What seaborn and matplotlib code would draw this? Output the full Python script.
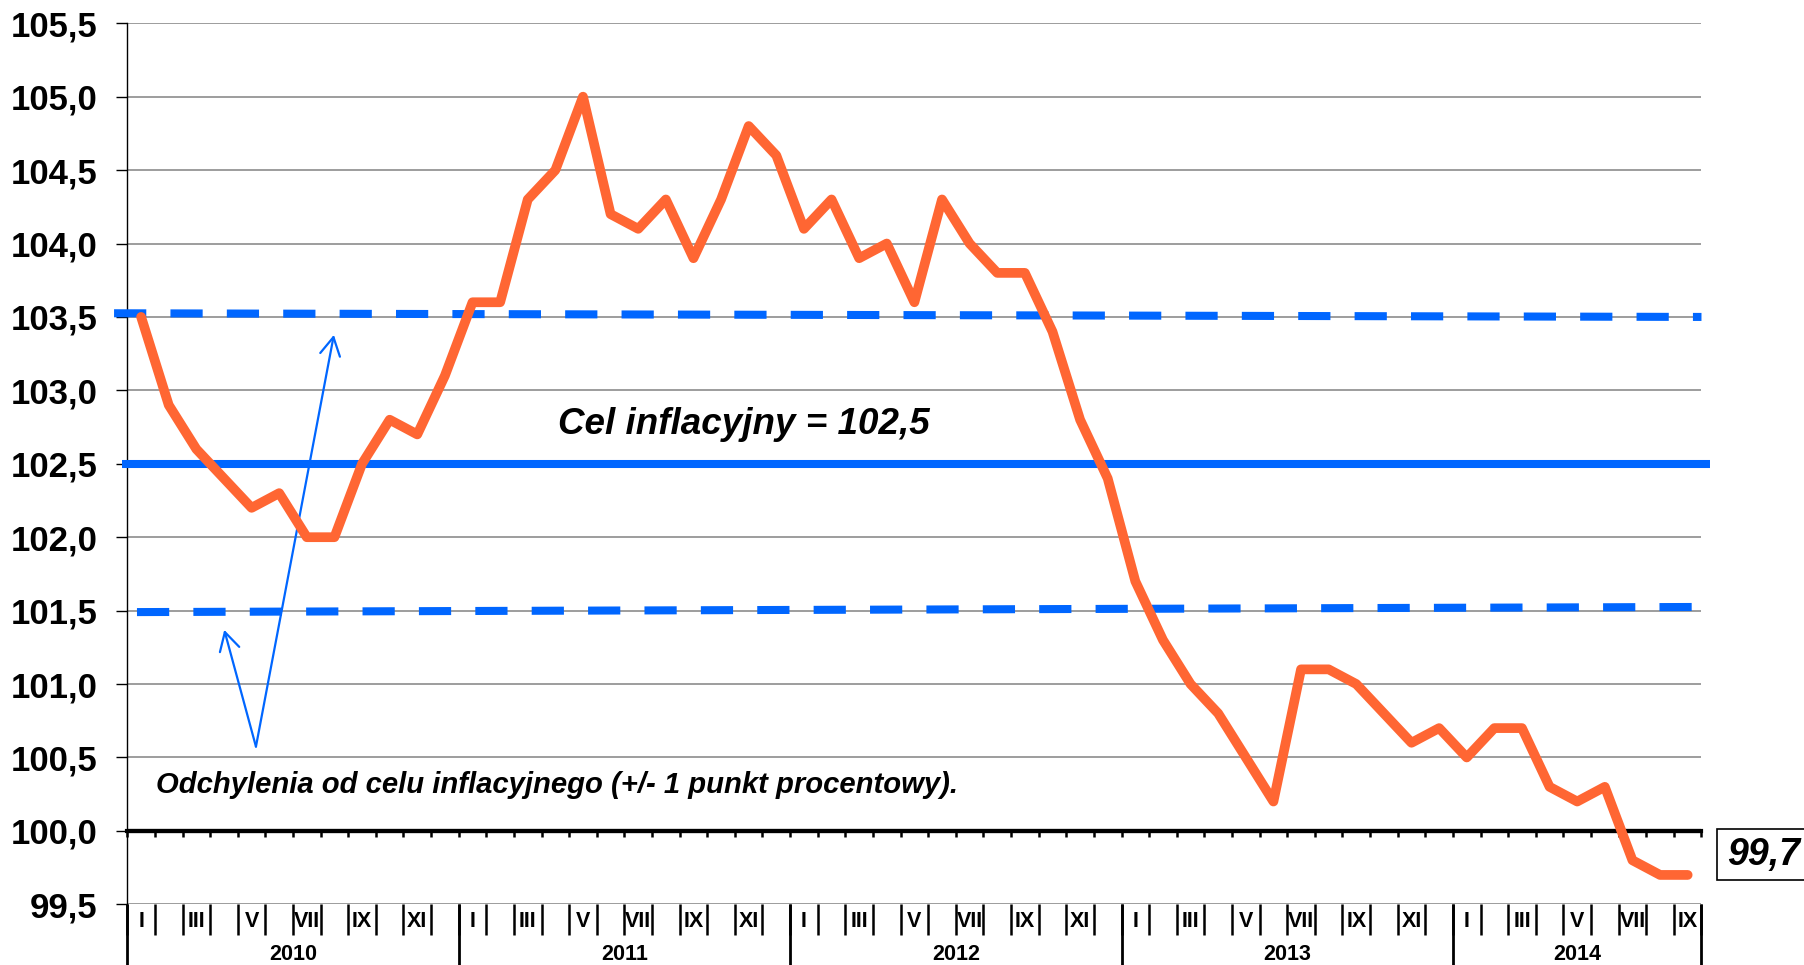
import numpy as np
import pandas as pd
import seaborn as sns
import matplotlib.pyplot as plt
from matplotlib.patches import Rectangle
from matplotlib.ticker import FuncFormatter

# ----------------------------------------
# Data (CPI, same month previous year = 100)
# ----------------------------------------

years = ["2010", "2011", "2012", "2013", "2014"]
months_per_year = [12, 12, 12, 12, 9]
roman_months = ["I", "", "III", "", "V", "", "VII", "", "IX", "", "XI", ""]

cpi = [
    103.5, 102.9, 102.6, 102.4, 102.2, 102.3, 102.0, 102.0, 102.5, 102.8, 102.7, 103.1,  # 2010
    103.6, 103.6, 104.3, 104.5, 105.0, 104.2, 104.1, 104.3, 103.9, 104.3, 104.8, 104.6,  # 2011
    104.1, 104.3, 103.9, 104.0, 103.6, 104.3, 104.0, 103.8, 103.8, 103.4, 102.8, 102.4,  # 2012
    101.7, 101.3, 101.0, 100.8, 100.5, 100.2, 101.1, 101.1, 101.0, 100.8, 100.6, 100.7,  # 2013
    100.5, 100.7, 100.7, 100.3, 100.2, 100.3, 99.8, 99.7, 99.7,                          # 2014
]

target = 102.5
band_upper = [103.525, 103.50]   # left / right end of the drawn band line
band_lower = [101.49, 101.525]
last_label = "99,7"

# ----------------------------------------
# Style
# ----------------------------------------

sns.set_style("white")
plt.rcParams["font.family"] = ["Liberation Sans", "DejaVu Sans"]
plt.rcParams["text.color"] = "black"
plt.rcParams["xtick.color"] = "black"
plt.rcParams["ytick.color"] = "black"

ORANGE = "#FF6633"
BLUE = "#0066FF"
GRID = "#8c8c8c"

n = len(cpi)
df = pd.DataFrame({"idx": np.arange(n), "cpi": cpi})
month_labels = [roman_months[i % 12] for i in range(n)]
bounds = np.concatenate([[0], np.cumsum(months_per_year)]) - 0.5
year_centers = (bounds[:-1] + bounds[1:]) / 2

fig = plt.figure(figsize=(18.04, 9.65), dpi=100)
ax = fig.add_axes([0.07057, 0.0629, 0.8726, 0.9130])

# target band and target line
ax.plot([-0.98, 56.5], band_upper, color=BLUE, lw=5.8, dashes=(4.0, 3.0),
        clip_on=False, zorder=3)
ax.plot([-0.15, 56.5], band_lower, color=BLUE, lw=5.8, dashes=(4.0, 3.0),
        clip_on=False, zorder=3)
ax.plot([-0.70, 56.82], [target, target], color=BLUE, lw=5.8,
        solid_capstyle="butt", clip_on=False, zorder=3)

# 100,0 line
ax.axhline(100, color="black", lw=3.0, zorder=2.5)

# CPI line
sns.lineplot(data=df, x="idx", y="cpi", ax=ax, color=ORANGE, lw=7.0, zorder=4,
             solid_capstyle="round", solid_joinstyle="round", clip_on=False)

# ----------------------------------------
# Axes
# ----------------------------------------

ax.set_xlim(-0.5, n - 0.5)
ax.set_ylim(99.5, 105.5)
ax.set_xlabel("")
ax.set_ylabel("")

ax.set_yticks(np.arange(99.5, 105.51, 0.5))
ax.yaxis.set_major_formatter(FuncFormatter(lambda v, p: f"{v:.1f}".replace(".", ",")))
ax.tick_params(axis="y", left=True, length=7.6, width=1.0, color="black", pad=14,
               labelsize=25, labelcolor="black")
for lbl in ax.get_yticklabels():
    lbl.set_fontweight("bold")
ax.yaxis.grid(True, color=GRID, lw=1.2)
ax.xaxis.grid(False)

for side in ["top", "right", "bottom"]:
    ax.spines[side].set_visible(False)
ax.spines["left"].set_color("black")
ax.spines["left"].set_linewidth(1.0)

# month labels and month separators
ax.set_xticks(np.arange(n))
ax.set_xticklabels(month_labels, fontsize=15.5, fontweight="bold", color="black")
ax.set_xticks(np.arange(n + 1) - 0.5, minor=True)
ax.tick_params(axis="x", which="major", bottom=True, length=0, pad=12.5)
ax.tick_params(axis="x", which="minor", bottom=True, length=22, width=1.8,
               color="black")
for lbl in ax.get_xticklabels():
    lbl.set_va("center")

# year labels and year separators
sec = ax.secondary_xaxis("bottom")
sec.spines["bottom"].set_visible(False)
sec.set_xticks(year_centers)
sec.set_xticklabels(years, fontsize=15.5, fontweight="bold", color="black")
sec.set_xticks(bounds, minor=True)
sec.tick_params(axis="x", which="major", bottom=True, length=0, pad=36)
sec.tick_params(axis="x", which="minor", bottom=True, length=44, width=2.0,
                color="black")
for lbl in sec.get_xticklabels():
    lbl.set_va("center")

# small ticks hanging from the 100,0 line
base = ax.secondary_xaxis((100 - 99.5) / 6)
base.spines["bottom"].set_linewidth(3.0)
base.spines["bottom"].set_color("black")
base.set_xticks(np.arange(n + 1) - 0.5)
base.tick_params(axis="x", bottom=True, length=4.5, width=1.8, color="black",
                 labelbottom=False)

# ----------------------------------------
# Annotations
# ----------------------------------------

ax.text(15.09, 102.70, "Cel inflacyjny = 102,5", fontsize=26.5, fontweight="bold",
        fontstyle="italic", ha="left", va="baseline", color="black")
ax.text(0.54, 100.258, "Odchylenia od celu inflacyjnego (+/- 1 punkt procentowy).",
        fontsize=21.1, fontweight="bold", fontstyle="italic", ha="left",
        va="baseline", color="black")

arrow_base = (4.158, 100.574)
for tip in [(6.98, 103.378), (3.01, 101.369)]:
    ax.annotate("", xy=tip, xytext=arrow_base,
                arrowprops=dict(arrowstyle="->,head_length=1.3,head_width=0.72",
                                color=BLUE, lw=1.6, mutation_scale=10,
                                shrinkA=0, shrinkB=0))

# last value box (cut by the right edge)
fig.patches.append(Rectangle((1717 / 1804, (965 - 880) / 965), 100 / 1804, 51 / 965,
                             transform=fig.transFigure, fc="white", ec="black",
                             lw=1.2))
fig.text(1727 / 1804, (965 - 855) / 965, last_label, fontsize=27, fontweight="bold",
         fontstyle="italic", ha="left", va="center", color="black")

fig.savefig("out.png", dpi=100)
